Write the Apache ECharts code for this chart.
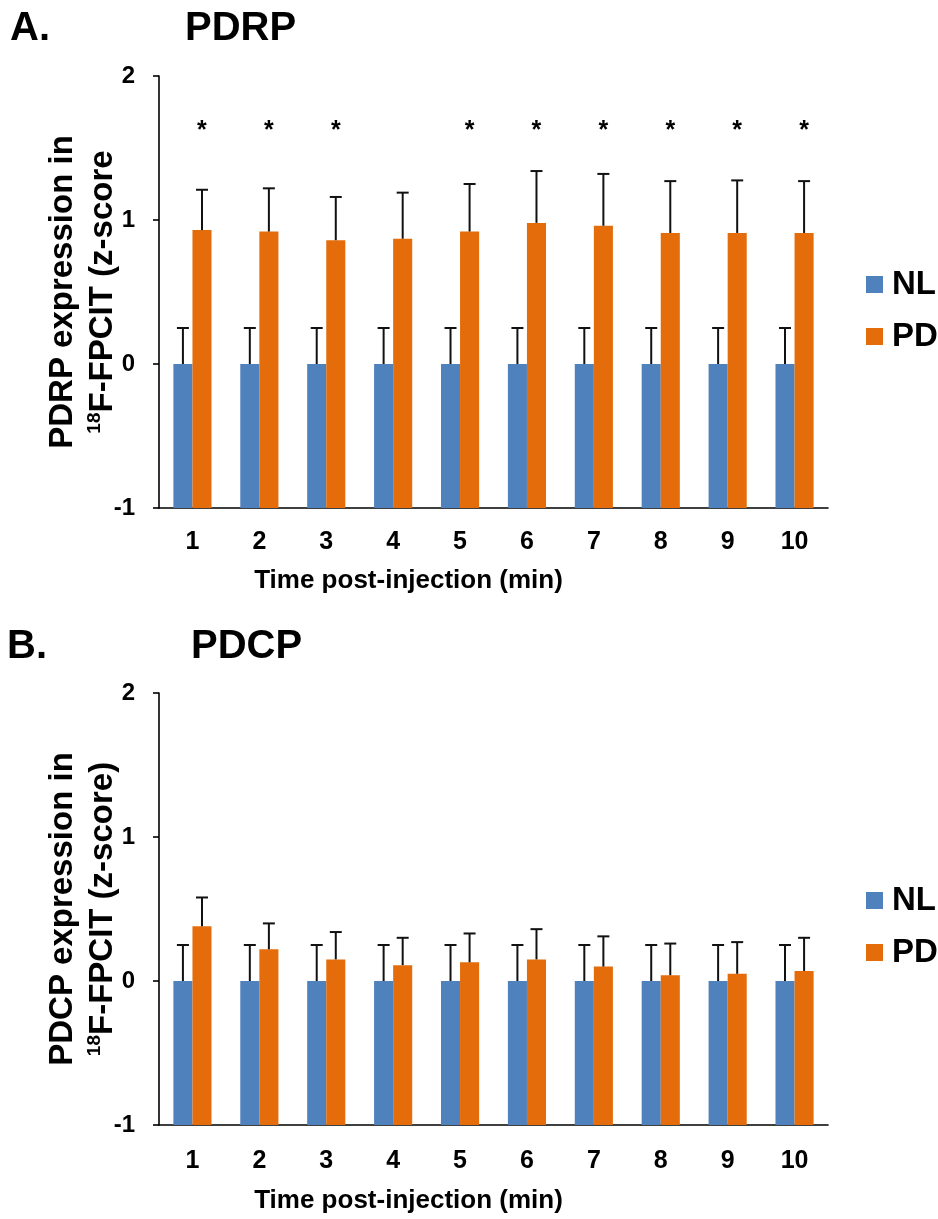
<!DOCTYPE html>
<html>
<head>
<meta charset="utf-8">
<script src="https://cdn.jsdelivr.net/npm/echarts@6/dist/echarts.min.js"></script>
<style>
html,body{margin:0;padding:0;background:#fff;}
#chart{width:938px;height:1219px;}
</style>
</head>
<body>
<div id="chart"></div>
<script>
// ---------- data ----------
const categories = ['1','2','3','4','5','6','7','8','9','10'];
const seriesNames = ['NL','PD'];

// Panel A: PDRP
const pdrpNL    = [0, 0, 0, 0, 0, 0, 0, 0, 0, 0];
const pdrpNLErr = [0.25, 0.25, 0.25, 0.25, 0.25, 0.25, 0.25, 0.25, 0.25, 0.25];
const pdrpPD    = [0.93, 0.92, 0.86, 0.87, 0.92, 0.98, 0.96, 0.91, 0.91, 0.91];
const pdrpPDErr = [0.28, 0.30, 0.30, 0.32, 0.33, 0.36, 0.36, 0.36, 0.365, 0.36];
const pdrpSig   = ['*','*','*','','*','*','*','*','*','*'];

// Panel B: PDCP
const pdcpNL    = [0, 0, 0, 0, 0, 0, 0, 0, 0, 0];
const pdcpNLErr = [0.25, 0.25, 0.25, 0.25, 0.25, 0.25, 0.25, 0.25, 0.25, 0.25];
const pdcpPD    = [0.38, 0.22, 0.15, 0.11, 0.13, 0.15, 0.10, 0.04, 0.05, 0.07];
const pdcpPDErr = [0.20, 0.18, 0.19, 0.19, 0.20, 0.21, 0.21, 0.22, 0.22, 0.23];

const yTicks = [-1, 0, 1, 2];

// ---------- style ----------
const FONT = '"Liberation Sans", Arial, sans-serif';
const BLUE = '#4F81BD', ORANGE = '#E46C0A';
const CAT_GAP = 0.43;
const SIG_Y = 1.62;

const chart = echarts.init(document.getElementById('chart'), null, {renderer: 'canvas'});

function errRender(side) {
  return function (params, api) {
    const i = api.value(0), v = api.value(1), e = api.value(2);
    const band = api.size([1, 0])[0];
    const bw = band * (1 - CAT_GAP) / 2;
    const dx = side * bw / 2;
    const p0 = api.coord([i, v]);
    const p1 = api.coord([i, v + e]);
    const x = p0[0] + dx;
    const st = {stroke: '#111', lineWidth: 2};
    return {
      type: 'group',
      children: [
        {type: 'line', shape: {x1: x, y1: p0[1], x2: x, y2: p1[1]}, style: st},
        {type: 'line', shape: {x1: x - 6, y1: p1[1], x2: x + 6, y2: p1[1]}, style: st}
      ]
    };
  };
}
function sigRender(params, api) {
  const i = api.value(0);
  const txt = pdrpSig[i];
  if (!txt) return null;
  const band = api.size([1, 0])[0];
  const bw = band * (1 - CAT_GAP) / 2;
  const p = api.coord([i, SIG_Y]);
  return {
    type: 'text',
    x: p[0] + bw / 2, y: p[1],
    style: {text: txt, fill: '#000', font: 'bold 25px ' + FONT, textAlign: 'center', textVerticalAlign: 'middle'}
  };
}

function xAxisCfg(gridIndex, margin, nameGap) {
  return {
    type: 'category', gridIndex, data: categories,
    axisLine: {show: true, onZero: false, lineStyle: {color: '#000', width: 1.6}},
    axisTick: {show: false},
    axisLabel: {color: '#000', fontFamily: FONT, fontWeight: 'bold', fontSize: 25, margin: margin, interval: 0},
    splitLine: {show: false},
    name: 'Time post-injection (min)', nameLocation: 'middle', nameGap: nameGap,
    nameMoveOverlap: false,
    nameTextStyle: {color: '#000', fontFamily: FONT, fontWeight: 'bold', fontSize: 26, padding: [0, 170, 0, 0]}
  };
}
function yAxisCfg(gridIndex, nameText) {
  return {
    type: 'value', gridIndex, min: yTicks[0], max: yTicks[yTicks.length - 1], interval: 1,
    startValue: -1,
    axisLine: {show: true, lineStyle: {color: '#000', width: 1.6}},
    axisTick: {show: true, inside: false, length: 6, lineStyle: {color: '#000', width: 1.6}},
    axisLabel: {color: '#000', fontFamily: FONT, fontWeight: 'bold', fontSize: 24, margin: 24},
    splitLine: {show: false},
    name: nameText, nameLocation: 'middle', nameRotate: 90, nameGap: 36,
    nameMoveOverlap: false,
    nameTextStyle: {
      color: '#000', fontFamily: FONT, fontWeight: 'bold', fontSize: 33, lineHeight: 40,
      rich: {
        sup: {fontFamily: FONT, fontWeight: 'bold', fontSize: 19, lineHeight: 40, verticalAlign: 'top', padding: [2, 0, 0, 0], color: '#000'}
      }
    }
  };
}
function barCfg(name, data, color, xi) {
  return {
    name, type: 'bar', xAxisIndex: xi, yAxisIndex: xi, data,
    barGap: '0%', barCategoryGap: (CAT_GAP * 100) + '%',
    itemStyle: {color}, emphasis: {disabled: true}
  };
}
function errCfg(name, vals, errs, side, xi) {
  return {
    name, type: 'custom', xAxisIndex: xi, yAxisIndex: xi,
    data: vals.map((v, i) => [i, v, errs[i]]),
    renderItem: errRender(side), z: 5, silent: true
  };
}
function legendCfg(top) {
  return {
    data: seriesNames, orient: 'vertical', left: 866, top: top, padding: 0,
    icon: 'rect', itemWidth: 17, itemHeight: 17, itemGap: 19,
    textStyle: {color: '#000', fontFamily: FONT, fontWeight: 'bold', fontSize: 33, lineHeight: 33, padding: [0, 0, 0, 4]}
  };
}
function titleCfg(text, left, top) {
  return {text, left, top, padding: 0,
    textStyle: {color: '#000', fontFamily: FONT, fontWeight: 'bold', fontSize: 40}};
}

const option = {
  animation: false,
  backgroundColor: '#fff',
  textStyle: {fontFamily: FONT},
  title: [
    titleCfg('A.', 10, 9), titleCfg('PDRP', 185, 9),
    titleCfg('B.', 7, 627), titleCfg('PDCP', 191, 627)
  ],
  legend: [legendCfg(268), legendCfg(884)],
  grid: [
    {left: 159, width: 669, top: 76, height: 432, outerBoundsMode: 'none'},
    {left: 159, width: 669, top: 693, height: 432, outerBoundsMode: 'none'}
  ],
  xAxis: [xAxisCfg(0, 22, 60), xAxisCfg(1, 24, 63)],
  yAxis: [
    yAxisCfg(0, 'PDRP expression in\n{sup|18}F-FPCIT (z-score'),
    yAxisCfg(1, 'PDCP expression in\n{sup|18}F-FPCIT (z-score)')
  ],
  series: [
    barCfg('NL', pdrpNL, BLUE, 0),
    barCfg('PD', pdrpPD, ORANGE, 0),
    errCfg('NL err A', pdrpNL, pdrpNLErr, -1, 0),
    errCfg('PD err A', pdrpPD, pdrpPDErr, 1, 0),
    {name: 'sig A', type: 'custom', xAxisIndex: 0, yAxisIndex: 0,
     data: pdrpSig.map((s, i) => [i, SIG_Y]), renderItem: sigRender, z: 5, silent: true},
    barCfg('NL', pdcpNL, BLUE, 1),
    barCfg('PD', pdcpPD, ORANGE, 1),
    errCfg('NL err B', pdcpNL, pdcpNLErr, -1, 1),
    errCfg('PD err B', pdcpPD, pdcpPDErr, 1, 1)
  ]
};
chart.setOption(option);
</script>
</body>
</html>
